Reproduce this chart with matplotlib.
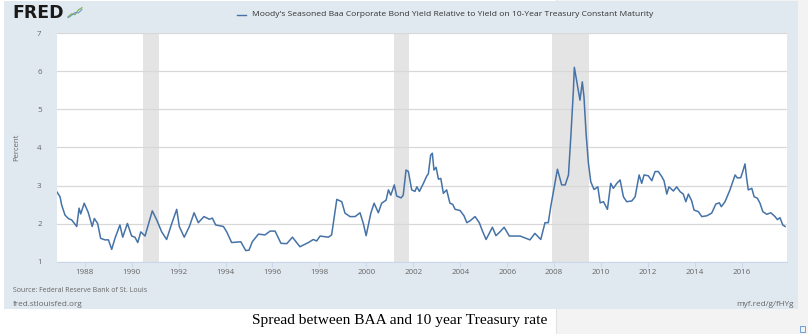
import matplotlib
matplotlib.use("Agg")
import matplotlib.pyplot as plt
from matplotlib.patches import Rectangle
from matplotlib.lines import Line2D

# Moody's Baa minus 10y Treasury (decimal year, percent)
years = [1986.81, 1986.95, 1987.02, 1987.16, 1987.30, 1987.45, 1987.66, 1987.76, 1987.83, 1987.98,
         1988.15, 1988.32, 1988.41, 1988.55, 1988.68, 1988.86, 1989.01, 1989.15, 1989.29, 1989.50,
         1989.62, 1989.82, 1990.00, 1990.14, 1990.26, 1990.39, 1990.57, 1990.88, 1991.07, 1991.28,
         1991.49, 1991.71, 1991.92, 1992.03, 1992.24, 1992.46, 1992.66, 1992.84, 1993.08, 1993.31,
         1993.44, 1993.58, 1993.91, 1994.05, 1994.26, 1994.65, 1994.86, 1995.00, 1995.14, 1995.40,
         1995.68, 1995.90, 1996.11, 1996.36, 1996.61, 1996.85, 1997.17, 1997.53, 1997.74, 1997.88,
         1998.03, 1998.38, 1998.52, 1998.74, 1998.95, 1999.09, 1999.30, 1999.52, 1999.73, 1999.87,
         1999.99, 2000.19, 2000.33, 2000.51, 2000.65, 2000.84, 2000.94, 2001.04, 2001.19, 2001.29,
         2001.48, 2001.57, 2001.69, 2001.79, 2001.93, 2002.07, 2002.15, 2002.26, 2002.43, 2002.57,
         2002.64, 2002.74, 2002.81, 2002.88, 2002.97, 2003.07, 2003.17, 2003.28, 2003.42, 2003.56,
         2003.68, 2003.78, 2003.99, 2004.16, 2004.28, 2004.42, 2004.63, 2004.81, 2004.96, 2005.10,
         2005.37, 2005.52, 2005.69, 2005.87, 2006.09, 2006.55, 2006.97, 2007.18, 2007.43, 2007.61,
         2007.75, 2007.86, 2008.14, 2008.32, 2008.47, 2008.61, 2008.71, 2008.82, 2008.86, 2008.99,
         2009.10, 2009.20, 2009.27, 2009.36, 2009.46, 2009.56, 2009.70, 2009.86, 2009.96, 2010.10,
         2010.27, 2010.41, 2010.52, 2010.67, 2010.81, 2010.95, 2011.09, 2011.31, 2011.45, 2011.62,
         2011.73, 2011.83, 2012.01, 2012.16, 2012.30, 2012.44, 2012.58, 2012.68, 2012.80, 2012.89,
         2013.08, 2013.22, 2013.37, 2013.50, 2013.61, 2013.72, 2013.86, 2013.96, 2014.14, 2014.29,
         2014.50, 2014.71, 2014.89, 2015.04, 2015.12, 2015.28, 2015.49, 2015.71, 2015.81, 2015.95,
         2016.04, 2016.13, 2016.20, 2016.27, 2016.42, 2016.52, 2016.66, 2016.77, 2016.89, 2017.06,
         2017.23, 2017.41, 2017.51, 2017.62, 2017.74, 2017.84]
spread = [2.84, 2.71, 2.49, 2.23, 2.14, 2.10, 1.93, 2.41, 2.26, 2.54,
          2.30, 1.93, 2.14, 2.01, 1.62, 1.58, 1.58, 1.33, 1.62, 1.97,
          1.65, 2.01, 1.68, 1.65, 1.51, 1.79, 1.68, 2.34, 2.10, 1.79,
          1.59, 2.01, 2.38, 1.93, 1.65, 1.93, 2.29, 2.03, 2.19, 2.12,
          2.15, 1.97, 1.93, 1.79, 1.51, 1.53, 1.30, 1.31, 1.53, 1.73,
          1.71, 1.81, 1.81, 1.49, 1.48, 1.65, 1.40, 1.51, 1.59, 1.55,
          1.68, 1.65, 1.71, 2.64, 2.58, 2.28, 2.19, 2.19, 2.29, 2.01,
          1.69, 2.28, 2.54, 2.29, 2.54, 2.62, 2.89, 2.75, 3.02, 2.73,
          2.68, 2.75, 3.41, 3.37, 2.89, 2.85, 2.97, 2.85, 3.06, 3.25,
          3.31, 3.80, 3.85, 3.41, 3.48, 3.17, 3.19, 2.80, 2.89, 2.54,
          2.51, 2.38, 2.35, 2.21, 2.03, 2.08, 2.19, 2.03, 1.79, 1.59,
          1.91, 1.69, 1.79, 1.91, 1.68, 1.68, 1.58, 1.75, 1.59, 2.03,
          2.03, 2.47, 3.43, 3.02, 3.02, 3.28, 4.28, 5.50, 6.10, 5.64,
          5.24, 5.72, 5.33, 4.37, 3.59, 3.10, 2.90, 2.97, 2.55, 2.58,
          2.38, 3.06, 2.93, 3.06, 3.15, 2.71, 2.58, 2.60, 2.71, 3.28,
          3.06, 3.28, 3.26, 3.13, 3.37, 3.37, 3.24, 3.13, 2.78, 2.97,
          2.86, 2.97, 2.84, 2.78, 2.58, 2.78, 2.60, 2.36, 2.32, 2.19,
          2.21, 2.28, 2.52, 2.55, 2.45, 2.58, 2.89, 3.28, 3.20, 3.21,
          3.38, 3.57, 3.20, 2.89, 2.93, 2.71, 2.67, 2.54, 2.32, 2.25,
          2.29, 2.19, 2.11, 2.16, 1.97, 1.93]

# NBER recessions (start, end)
recessions = [(1990.50, 1991.17), (2001.17, 2001.83), (2007.92, 2009.50)]
tick_years = list(range(1988, 2017, 2))
yticks = [1, 2, 3, 4, 5, 6, 7]

W, H = 808, 334
fig = plt.figure(figsize=(W / 100, H / 100), dpi=100)
fig.patch.set_facecolor("white")

def fx(px):
    return px / W

def fy(py):
    return 1 - py / H

# page background pieces
fig.add_artist(Rectangle((fx(556), 0), 1, 1, transform=fig.transFigure,
                         facecolor="#f3f3f3", edgecolor="none", zorder=0))
fig.add_artist(Line2D([fx(556), fx(556)], [0, 1], transform=fig.transFigure,
                      color="#e2e2e2", lw=0.8, zorder=0.5))
panel = Rectangle((fx(4), fy(309)), fx(798) - fx(4), fy(1) - fy(309),
                  transform=fig.transFigure, facecolor="#e1e9f0",
                  edgecolor="none", zorder=1)
fig.add_artist(panel)
fig.add_artist(Rectangle((fx(800), fy(332)), fx(5), fy(326) - fy(332), transform=fig.transFigure,
                         facecolor="none", edgecolor="#5b8fd6", lw=0.6, zorder=1))

ax = fig.add_axes([fx(57), fy(262), fx(787) - fx(57), fy(33) - fy(262)])
ax.set_zorder(2)
ax.set_facecolor("white")

for s, e in recessions:
    ax.axvspan(s, e, color="#e4e4e4", lw=0, zorder=1)

ax.plot(years, spread, color="#4572a7", lw=1.1, zorder=3)

ax.set_xlim(1986.82, 2017.92)
ax.set_ylim(1, 7)
ax.set_yticks(yticks)
ax.set_yticklabels([str(v) for v in yticks])
ax.set_xticks(tick_years)
ax.set_xticklabels([str(y) for y in tick_years])
ax.grid(axis="y", color="#d8d8d8", lw=0.9, zorder=2)
ax.set_axisbelow(False)
for side in ["left", "right", "top"]:
    ax.spines[side].set_visible(False)
ax.spines["bottom"].set_color("#ccd6eb")
ax.spines["bottom"].set_linewidth(0.8)
ax.tick_params(axis="y", length=0, pad=11, labelsize=5.8, labelcolor="#666666")
ax.tick_params(axis="x", length=3.6, width=0.7, color="#ccd6eb", pad=1.6,
               labelsize=5.8, labelcolor="#666666")
for lab in ax.get_xticklabels() + ax.get_yticklabels():
    lab.set_family("Open Sans")
ax.set_ylabel("Percent", family="Open Sans", fontsize=5.6, color="#666666", labelpad=12)

# header: logo and legend
fig.text(fx(12), fy(13.5), "FRED", family="DejaVu Sans", fontweight="heavy",
         fontsize=12.4, color="#1a1a1a", va="center", ha="left", zorder=3)
icon = fig.add_axes([fx(67), fy(19), fx(16), fy(6) - fy(19)])
icon.set_zorder(3)
icon.set_facecolor("#d7dfe6")
icon.plot([0, 1, 2, 3, 4], [0.5, 1.2, 1.0, 2.1, 2.6], color="#7bb35a", lw=0.9)
icon.plot([0, 1, 2, 3, 4], [0.3, 0.8, 1.5, 1.4, 2.2], color="#6a8fc0", lw=0.7)
icon.set_xlim(-0.3, 4.3)
icon.set_ylim(0, 3)
icon.axis("off")

fig.add_artist(Line2D([fx(237), fx(246)], [fy(15), fy(15)], transform=fig.transFigure,
                      color="#4572a7", lw=1.0, zorder=3))
fig.text(fx(252), fy(15),
         "Moody's Seasoned Baa Corporate Bond Yield Relative to Yield on 10-Year Treasury Constant Maturity",
         family="Open Sans", fontsize=6.1, color="#333333", va="center", ha="left", zorder=3)

# footer
fig.text(fx(13), fy(290), "Source: Federal Reserve Bank of St. Louis", family="Open Sans",
         fontsize=5.0, color="#666666", va="center", ha="left", zorder=3)
fig.text(fx(13), fy(304), "fred.stlouisfed.org", family="Open Sans",
         fontsize=5.9, color="#666666", va="center", ha="left", zorder=3)
t = fig.text(fx(736), fy(304), "myf.red/g/fHYg", family="Open Sans",
             fontsize=5.9, color="#666666", va="center", ha="left", zorder=3)
t.set_clip_path(panel)

fig.text(fx(399.5), fy(324), "Spread between BAA and 10 year Treasury rate",
         family="Liberation Serif", fontsize=11.1, color="black",
         va="baseline", ha="center", zorder=3)

fig.savefig("out.png", dpi=100, facecolor=fig.get_facecolor())
